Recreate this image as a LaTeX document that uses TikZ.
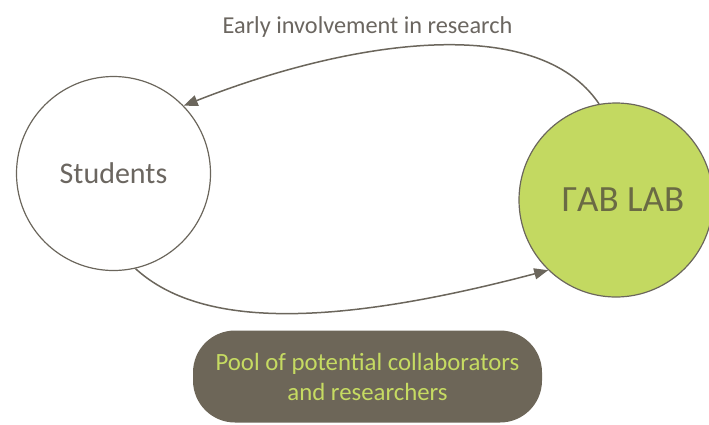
\documentclass[tikz,border=0pt]{standalone}
\usepackage{fontspec}
\setmainfont{Carlito}
\usetikzlibrary{arrows.meta}
\definecolor{edgegray}{HTML}{6B665C}
\definecolor{labgreen}{HTML}{C3D961}
\definecolor{labtext}{HTML}{6A6A44}
\definecolor{boxfill}{HTML}{6D6658}
\definecolor{boxtext}{HTML}{C6DB62}
\definecolor{labelgray}{HTML}{6B6660}
\tikzset{
  bubble/.style={circle, draw=edgegray, line width=1.2pt, minimum size=194pt, inner sep=0pt},
  flow/.style={draw=edgegray, line width=1.5pt, -{Triangle[length=14pt,width=11pt]}},
  poolbox/.style={rectangle, rounded corners=42pt, fill=boxfill, minimum width=349pt, minimum height=92pt, align=center, text=boxtext, font=\fontsize{24.8}{30}\selectfont}
}
\begin{document}
\begin{tikzpicture}[x=1pt,y=-1pt]
\useasboundingbox (0,0) rectangle (709,424);
\node[bubble, fill=white, text=labelgray, font=\fontsize{30}{36}\selectfont] (students) at (113.5,173.5) {Students};
\node[bubble, fill=labgreen, text=labtext, font=\fontsize{37}{42}\selectfont] (fab) at (616,200) {\hspace*{14pt}ΓAB LAB};
\node[text=labelgray, font=\fontsize{24.3}{28}\selectfont] (early) at (367.5,27) {Early involvement in research};
\node[poolbox] (pool) at (367.5,376.5) {Pool of potential collaborators\\and researchers};
\draw[flow] (fab.100) .. controls (537,12) and (350,40) .. (students.44);
\draw[flow] (students.-77) .. controls (194,322) and (310,333) .. (fab.226);
\end{tikzpicture}
\end{document}
